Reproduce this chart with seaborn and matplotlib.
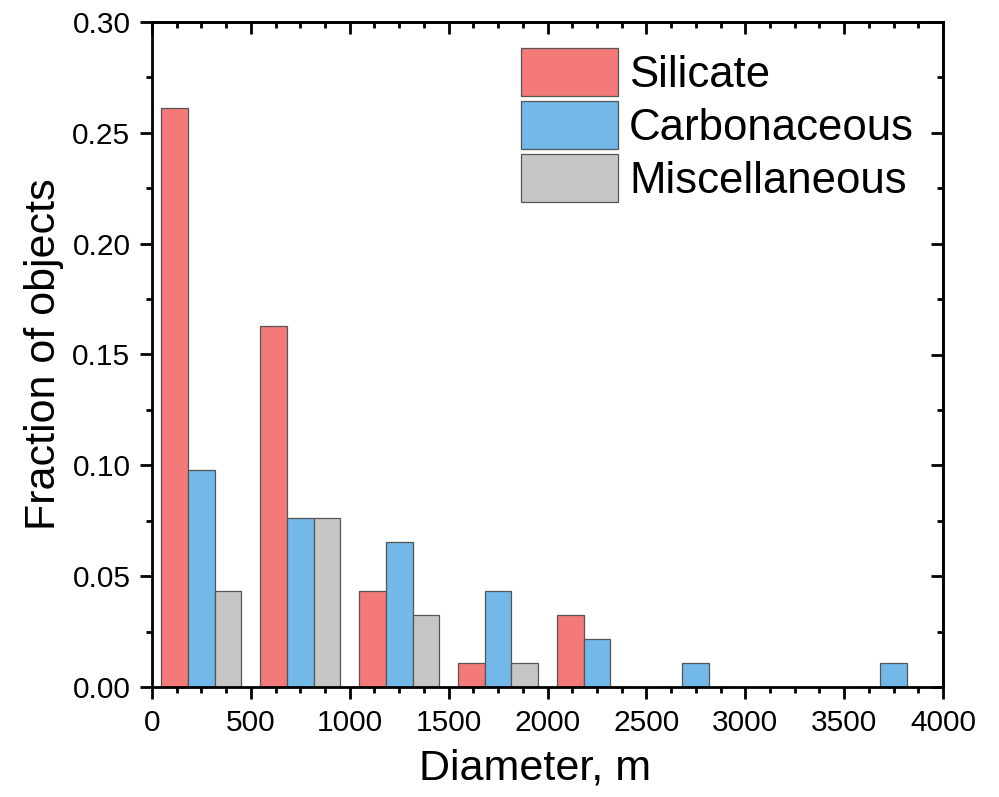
import numpy as np
import pandas as pd
import matplotlib
matplotlib.use("Agg")
import matplotlib.pyplot as plt
from matplotlib.patches import Patch
from matplotlib.ticker import MultipleLocator
import seaborn as sns

# ---- data ----
bin_centers = [250, 750, 1250, 1750, 2250, 2750, 3250, 3750]
silicate = [0.261, 0.163, 0.0435, 0.0109, 0.0326, 0.0, 0.0, 0.0]
carbonaceous = [0.0978, 0.0761, 0.0652, 0.0435, 0.0217, 0.0109, 0.0, 0.0109]
miscellaneous = [0.0435, 0.0761, 0.0326, 0.0109, 0.0, 0.0, 0.0, 0.0]
categories = ["Silicate", "Carbonaceous", "Miscellaneous"]
colors = ["#F47A7A", "#72B9EA", "#C6C6C6"]
y_ticks = [0.00, 0.05, 0.10, 0.15, 0.20, 0.25, 0.30]
y_tick_labels = ["0.00", "0.05", "0.10", "0.15", "0.20", "0.25", "0.30"]

rows = []
for cat, vals in zip(categories, [silicate, carbonaceous, miscellaneous]):
    for x, v in zip(bin_centers, vals):
        rows.append({"Diameter": x, "Fraction": v, "Type": cat})
df = pd.DataFrame(rows)

sns.set_style("ticks")
plt.rcParams["font.family"] = ["Liberation Sans", "DejaVu Sans"]
plt.rcParams["text.color"] = "black"
plt.rcParams["axes.labelcolor"] = "black"
plt.rcParams["xtick.color"] = "black"
plt.rcParams["ytick.color"] = "black"

fig = plt.figure(figsize=(9.99, 7.97), dpi=100)
ax = fig.add_axes([152/999, 1-687/797, (943-152)/999, (687-22)/797])

sns.barplot(data=df, x="Diameter", y="Fraction", hue="Type",
            hue_order=categories, palette=colors, native_scale=True,
            width=0.81, dodge=True, edgecolor="#555555", linewidth=0.9,
            legend=False, ax=ax, saturation=1)

ax.set_xlim(0, 4000)
ax.set_ylim(0, 0.30)
ax.xaxis.set_major_locator(MultipleLocator(500))
ax.xaxis.set_minor_locator(MultipleLocator(125))
ax.set_yticks(y_ticks)
ax.set_yticklabels(y_tick_labels)
ax.yaxis.set_minor_locator(MultipleLocator(0.025))

for s in ax.spines.values():
    s.set_visible(True)
    s.set_linewidth(2.0)
    s.set_color("black")

ax.tick_params(which="major", direction="out", length=8.5, width=2.0,
               labelsize=21.5, pad=7, colors="black")
ax.tick_params(which="minor", direction="out", length=4.3, width=2.0)

secx = ax.secondary_xaxis("top")
secx.xaxis.set_major_locator(MultipleLocator(500))
secx.xaxis.set_minor_locator(MultipleLocator(125))
secx.tick_params(which="major", direction="in", length=8.5, width=2.0, labeltop=False)
secx.tick_params(which="minor", direction="in", length=4.3, width=2.0)
secx.spines["top"].set_linewidth(2.0)

secy = ax.secondary_yaxis("right")
secy.yaxis.set_major_locator(MultipleLocator(0.05))
secy.yaxis.set_minor_locator(MultipleLocator(0.025))
secy.tick_params(which="major", direction="in", length=8.5, width=2.0, labelright=False)
secy.tick_params(which="minor", direction="in", length=4.3, width=2.0)
secy.spines["right"].set_linewidth(2.0)

ax.set_xlabel("Diameter, m", fontsize=31, labelpad=8.5)
ax.xaxis.label.set_x((535-152)/791)
ax.set_ylabel("Fraction of objects", fontsize=31, labelpad=6)

handles = [Patch(facecolor=c, edgecolor="#555555", linewidth=0.9, label=l)
           for c, l in zip(colors, categories)]
fig.legend(handles=handles, loc="upper left",
           bbox_to_anchor=(521/999, 1-48/797), frameon=False,
           fontsize=31.5, handlelength=2.22, handleheight=1.31,
           labelspacing=0.114, handletextpad=0.25, borderpad=0,
           borderaxespad=0)

fig.savefig("out.png", dpi=100)
